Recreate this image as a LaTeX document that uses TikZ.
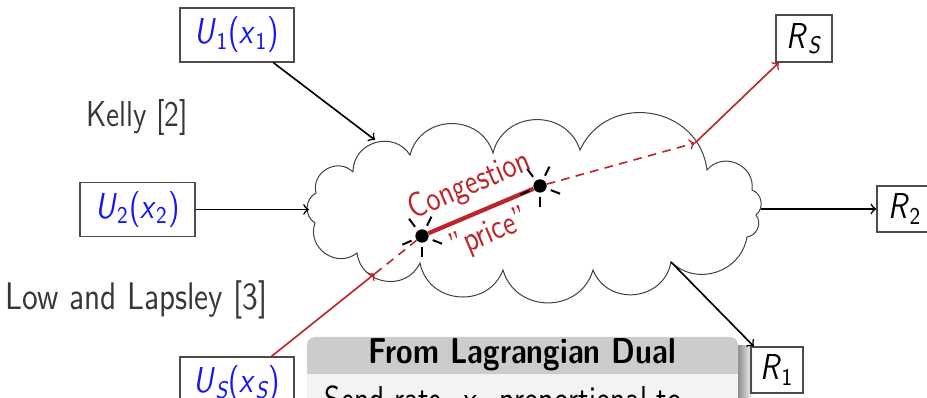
\documentclass[tikz,border=0pt]{standalone}
\usepackage{graphicx}
\usetikzlibrary{calc}
\definecolor{cred}{RGB}{190,35,40}
\definecolor{ctext}{RGB}{55,55,55}
\definecolor{cblue}{RGB}{20,20,245}
\definecolor{hdr}{RGB}{204,204,204}
\definecolor{bdy}{RGB}{243,243,243}
\newcommand\vs[1]{\scalebox{1}[1.2]{#1}}
\newcommand\mvar[1]{\textit{#1}}
\begin{document}
\begin{tikzpicture}[x=0.4pt,y=-0.4pt,
  every node/.style={font=\sffamily\fontsize{12}{14}\selectfont},
  lbox/.style={draw=black!70, line width=0.5pt, inner sep=0pt, minimum height=21.6pt},
  arr/.style={->, line width=0.65pt},
  rarr/.style={->, line width=0.65pt, draw=cred},
  rdash/.style={line width=0.65pt, draw=cred, dash pattern=on 3.4pt off 2.6pt},
  ray/.style={line width=0.8pt, black},
  dotc/.style={circle, fill=black, inner sep=0pt, minimum size=5.2pt},
  puff/.style={bend right=74, looseness=1.3},
  spuff/.style={bend right=60, looseness=1.1},
  rtext/.style={text=cred, rotate=23, font=\sffamily\fontsize{11.5}{14}\selectfont}]
\useasboundingbox (0,0) rectangle (927,398);
\clip (0,0) rectangle (927,398);

% block
\shade[left color=black!45, right color=white] (738,346) rectangle (753,420);
\fill[hdr] (307,374) [rounded corners=3.2pt] -- (307,337) -- (738,337) [sharp corners] -- (738,374) -- cycle;
\fill[bdy] (307,374) rectangle (738,420);
\node[font=\sffamily\bfseries\fontsize{12}{14}\selectfont] (bh) at (522,355) {\vs{From Lagrangian Dual}};
\node[anchor=base west] (bt) at (316,412) {\vs{Send rate \ \mvar{x}\textsubscript{\itshape S} proportional to}};

% cloud (traced outline)
\coordinate (P0) at (353,172);
\coordinate (Q1) at (316,193);
\coordinate (Q2) at (315,223);
\coordinate (P1) at (357,253);
\coordinate (P2) at (420,263);
\coordinate (P3) at (503,270);
\coordinate (P4) at (593,270);
\coordinate (P5) at (671,262);
\coordinate (P6) at (747,237);
\coordinate (S1) at (756,215);
\coordinate (S2) at (752,190);
\coordinate (P7) at (707,170);
\coordinate (P8) at (580,150);
\coordinate (P9) at (493,153);
\coordinate (P10) at (410,155);
\draw[black!75, thin] (P0) to[puff] (Q1) to[spuff] (Q2) to[puff] (P1) to[puff] (P2)
  to[puff] (P3) to[puff] (P4) to[puff] (P5) to[bend right=62, looseness=1.15] (P6)
  to[spuff] (S1) to[spuff] (S2) to[puff] (P7) to[puff] (P8) to[puff] (P9)
  to[puff] (P10) to[puff] (P0);

% boxes
\node[lbox, minimum width=45.6pt, text=cblue] (U1) at (237,35) {\vs{\mvar{U}\textsubscript{1}(\mvar{x}\textsubscript{1})}};
\node[lbox, minimum width=46pt, text=cblue] (U2) at (137.5,209.5) {\vs{\mvar{U}\textsubscript{2}(\mvar{x}\textsubscript{2})}};
\node[lbox, minimum width=45.6pt, text=cblue] (US) at (237,384) {\vs{\mvar{U}\textsubscript{\itshape S}(\mvar{x}\textsubscript{\itshape S})}};
\node[lbox, minimum width=22.4pt, minimum height=18.8pt] (RS) at (804,38.5) {\vs{\mvar{R}\textsubscript{\itshape S}}};
\node[lbox, minimum width=22.4pt, minimum height=18.4pt] (R2) at (905,209) {\vs{\mvar{R}\textsubscript{2}}};
\node[lbox, minimum width=20.8pt, minimum height=18.4pt] (R1) at (777,370) {\vs{\mvar{R}\textsubscript{1}}};

% side texts
\node[text=ctext] (kelly) at (137,118) {\vs{Kelly [2]}};
\node[text=ctext] (low) at (136.5,300) {\scalebox{1.07}[1.28]{Low and Lapsley [3]}};

% connector end points
\coordinate (c1) at (375,140);
\coordinate (c2) at (309,209.5);
\coordinate (c3) at (761,209);
\coordinate (m2) at (695,143);

% dots
\node[dotc] (d1) at (422,236) {};
\node[dotc] (d2) at (540,186) {};
\coordinate (m1) at ($(US)!0.746!(d1)$);

% black arrows
\draw[arr] (U1) -- (c1);
\draw[arr] (U2) -- (c2);
\draw[arr] (c3) -- (R2);
\draw[arr] (P5) -- (R1);

% red path
\draw[rarr] (US) -- (m1);
\draw[rdash] (m1) -- (d1);
\draw[cred, line width=1.7pt] (d1) -- (d2);
\draw[rdash, ->] (d2) -- (m2);
\draw[rarr] (m2) -- (RS);

% rays
\foreach \d in {d1,d2}{
  \foreach \a in {127,64,204,-21,-90}{
    \draw[ray] ($(\d)+(\a:4.6pt)$) -- ($(\d)+(\a:8.6pt)$);
  }
}
\node[dotc] at (d1) {};
\node[dotc] at (d2) {};

% labels
\node[rtext] (cong) at (470,186) {\vs{Congestion}};
\node[rtext] (price) at (490,234) {\vs{''price''}};
\end{tikzpicture}
\end{document}
